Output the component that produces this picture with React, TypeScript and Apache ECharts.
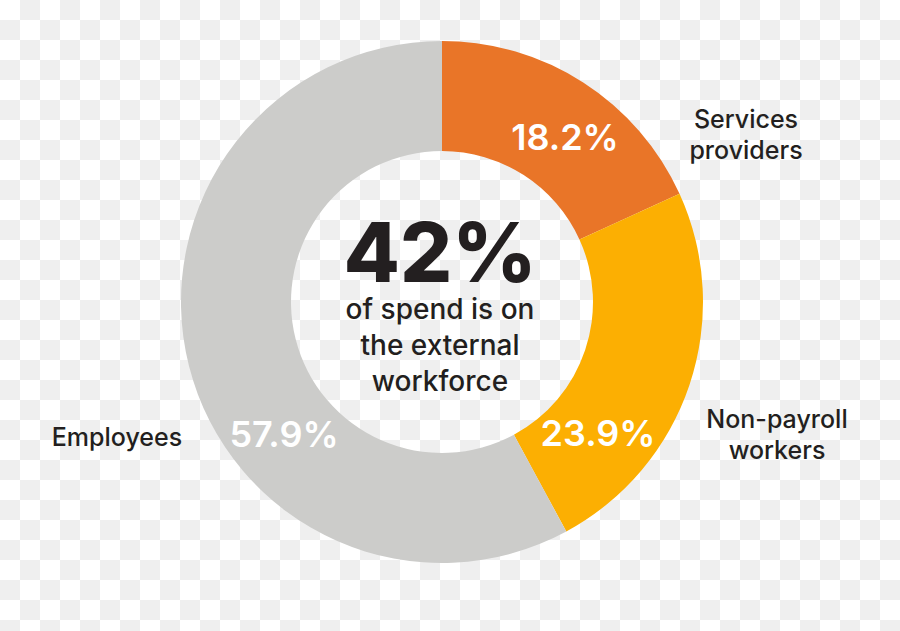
import React, { useEffect, useRef } from "react";
import * as echarts from "echarts";

const categories = ["Services providers", "Non-payroll workers", "Employees"];
const nameLabels = ["Services\nproviders", "Non-payroll\nworkers", "Employees"];
const shares = [18.2, 23.9, 57.9];
const colors = ["#E97528", "#FCAF02", "#CCCCCA"];
const headline = "42%";
const subline = "of spend is on\nthe external\nworkforce";

const FONT = "Inter, 'Noto Sans', sans-serif";
const INK = "#231F20";

// label anchor positions (layout, not data)
const pctPos = [
  [565, 137],
  [598, 433],
  [284, 434],
];
const namePos = [
  [746, 134],
  [777, 434],
  [117, 437],
];

export default function App() {
  const ref = useRef<HTMLDivElement>(null);
  useEffect(() => {
    if (!ref.current) return;
    const chart = echarts.init(ref.current, null, { renderer: "svg" });
    const data = categories.map((c, i) => ({
      name: c,
      value: shares[i],
      itemStyle: { color: colors[i] },
    }));
    chart.setOption({
      animation: false,
      series: [
        {
          type: "pie",
          center: [442, 302],
          radius: [151, 261],
          startAngle: 90,
          clockwise: true,
          silent: true,
          itemStyle: { borderWidth: 0 },
          label: {
            show: true,
            position: "inside",
            formatter: (p: any) => `${shares[p.dataIndex].toFixed(1)}%`,
            color: "#ffffff",
            fontFamily: FONT,
            fontWeight: 600,
            fontSize: 36,
          },
          labelLine: { show: false },
          labelLayout: (p: any) => ({
            x: pctPos[p.dataIndex][0],
            y: pctPos[p.dataIndex][1],
            align: "center",
            verticalAlign: "middle",
          }),
          data,
        },
        {
          type: "pie",
          center: [442, 302],
          radius: [151, 261],
          startAngle: 90,
          clockwise: true,
          silent: true,
          itemStyle: { color: "rgba(0,0,0,0)", borderWidth: 0 },
          label: {
            show: true,
            position: "inside",
            formatter: (p: any) => nameLabels[p.dataIndex],
            color: INK,
            fontFamily: FONT,
            fontWeight: 500,
            fontSize: 25,
            lineHeight: 31,
            align: "center",
          },
          labelLine: { show: false },
          labelLayout: (p: any) => ({
            x: namePos[p.dataIndex][0],
            y: namePos[p.dataIndex][1],
            align: "center",
            verticalAlign: "middle",
          }),
          data: categories.map((c, i) => ({ name: c, value: shares[i] })),
        },
      ],
      graphic: [
        {
          type: "text",
          x: 440,
          y: 252,
          style: {
            text: headline,
            fill: INK,
            font: `800 82px ${FONT}`,
            lineHeight: 62,
            align: "center",
            verticalAlign: "middle",
          },
        },
        {
          type: "text",
          x: 440,
          y: 345,
          style: {
            text: subline,
            fill: INK,
            font: `500 28px ${FONT}`,
            lineHeight: 36,
            align: "center",
            verticalAlign: "middle",
          },
        },
      ],
    });
    return () => chart.dispose();
  }, []);
  return (
    <div
      ref={ref}
      style={{
        position: "fixed",
        left: 0,
        top: 0,
        width: 900,
        height: 631,
        backgroundColor: "#ffffff",
        backgroundImage:
          "conic-gradient(#efefef 0 25%, #ffffff 0 50%, #efefef 0 75%, #ffffff 0)",
        backgroundSize: "40px 40px",
      }}
    />
  );
}
